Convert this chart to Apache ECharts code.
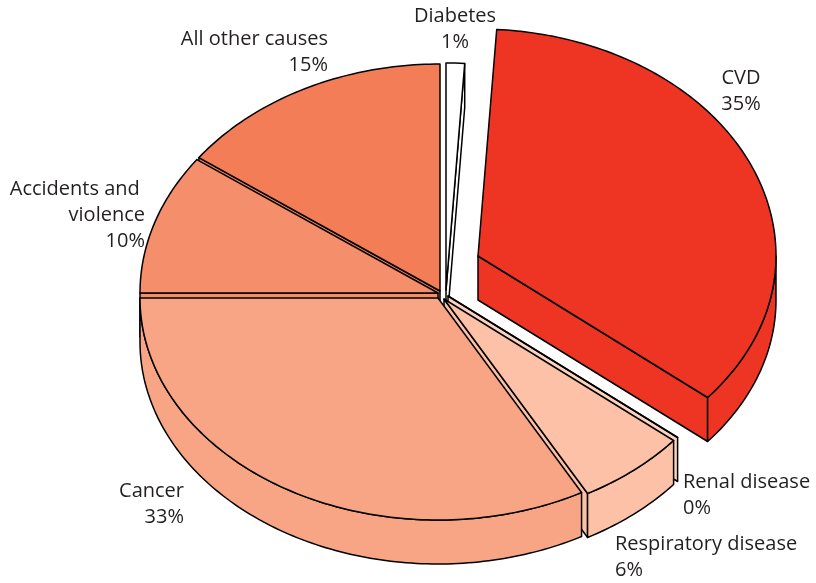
<!DOCTYPE html>
<html>
<head>
<meta charset="utf-8">
<script src="https://cdn.jsdelivr.net/npm/echarts@6/dist/echarts.min.js"></script>
<style>
  html, body { margin: 0; padding: 0; background: #ffffff; }
  #chart { width: 816px; height: 583px; }
</style>
</head>
<body>
<div id="chart"></div>
<script>
// Causes of death, share of total (%), clockwise from 12 o'clock
const categories = ['Diabetes', 'CVD', 'Renal disease', 'Respiratory disease', 'Cancer', 'Accidents and violence', 'All other causes'];
const shares = [1, 35, 0, 6, 33, 10, 15];
const sliceColors = ['#ffffff', '#ee3524', '#fdd3bf', '#fcc1a6', '#f7a584', '#f58e6b', '#f37d57'];

// Tilted disc geometry (pixels)
const disc = { cx: 442, cy: 294, rx: 298, ryBack: 227, ryFront: 222, depth: 44 };
// Per-slice pull-out offsets [dx, dy]
const explode = {
  'Diabetes': [4, -4],
  'CVD': [36, -38],
  'Renal disease': [6, 2],
  'Respiratory disease': [2, 5],
  'Cancer': [-4, 4],
  'Accidents and violence': [-4, -1],
  'All other causes': [-2, -3]
};
// Label placement: [x, top, align, wrapWidth]
const labelPlace = {
  'Diabetes': [455, 3, 'center'],
  'CVD': [741, 65, 'center'],
  'Renal disease': [683, 469, 'left'],
  'Respiratory disease': [615, 531, 'left'],
  'Cancer': [184, 478, 'right'],
  'Accidents and violence': [145, 176, 'right', 140],
  'All other causes': [328, 26, 'right']
};

const total = shares.reduce((a, b) => a + b, 0);
const startAngles = [];
(function () {
  let acc = 0;
  shares.forEach(v => { startAngles.push(acc / total * 360); acc += v; });
})();

const RAD = Math.PI / 180;
function rimPoint(c, deg, down) {
  const s = Math.sin(deg * RAD), co = Math.cos(deg * RAD);
  const ry = co > 0 ? disc.ryBack : disc.ryFront;
  return [c[0] + disc.rx * s, c[1] - ry * co + (down ? disc.depth : 0)];
}
function arc(c, a, b, down) {
  const pts = [];
  const n = Math.max(1, Math.ceil(Math.abs(b - a)));
  for (let i = 0; i <= n; i++) pts.push(rimPoint(c, a + (b - a) * i / n, down));
  return pts;
}

const edge = { stroke: '#000000', lineWidth: 1.5, lineJoin: 'round' };

function renderItem(params, api) {
  const i = params.dataIndex;
  const name = categories[i];
  const a0 = startAngles[i];
  const a1 = a0 + shares[i] / total * 360;
  const off = explode[name] || [0, 0];
  const c = [disc.cx + off[0], disc.cy + off[1]];
  const cb = [c[0], c[1] + disc.depth];
  const fill = sliceColors[i];
  const children = [];

  // radial faces that turn toward the viewer
  const faces = [];
  if (Math.sin(a1 * RAD) > 1e-6) faces.push(a1);
  if (Math.sin(a0 * RAD) < -1e-6) faces.push(a0);
  faces.forEach(t => {
    const p = rimPoint(c, t, false), pb = rimPoint(c, t, true);
    children.push({
      type: 'polygon', z2: Math.round((c[1] + p[1]) / 2),
      shape: { points: [c, p, pb, cb] },
      style: Object.assign({ fill: fill }, edge)
    });
  });

  // outer wall on the near half of the rim
  const wa = Math.max(a0, 90), wb = Math.min(a1, 270);
  if (wb > wa) {
    const pts = arc(c, wa, wb, false).concat(arc(c, wb, wa, true));
    children.push({
      type: 'polygon', z2: 600,
      shape: { points: pts },
      style: Object.assign({ fill: fill }, edge)
    });
  }

  // top face
  children.push({
    type: 'polygon', z2: 1000,
    shape: { points: [c].concat(arc(c, a0, a1, false)) },
    style: Object.assign({ fill: fill }, edge)
  });

  // label
  const lp = labelPlace[name];
  const ts = {
    text: name + '\n' + api.value(0) + '%',
    x: lp[0], y: lp[1],
    fill: '#231f20',
    font: '20px "Open Sans", sans-serif',
    align: lp[2], verticalAlign: 'top', lineHeight: 26
  };
  if (lp[3]) { ts.width = lp[3]; ts.overflow = 'break'; }
  children.push({ type: 'text', z2: 2000, style: ts });

  return { type: 'group', children: children };
}

const chart = echarts.init(document.getElementById('chart'), null, { renderer: 'canvas' });
chart.setOption({
  animation: false,
  backgroundColor: '#ffffff',
  series: [{
    type: 'custom',
    coordinateSystem: 'none',
    renderItem: renderItem,
    data: categories.map((n, i) => ({ name: n, value: shares[i] }))
  }]
});
</script>
</body>
</html>
